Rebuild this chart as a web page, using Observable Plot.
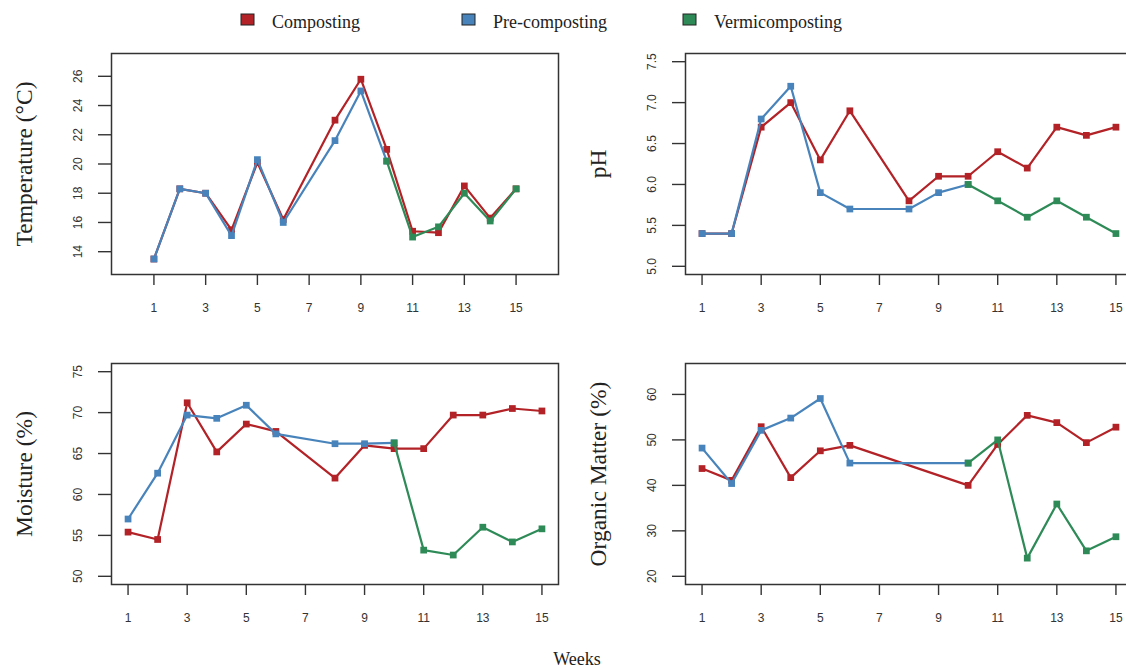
<!DOCTYPE html>
<html><head><meta charset="utf-8">
<script src="https://cdn.jsdelivr.net/npm/d3@7"></script>
<script src="https://cdn.jsdelivr.net/npm/@observablehq/plot@0.6"></script>
<style>
body{margin:0;background:#fff;}
#root{position:relative;width:1126px;height:668px;overflow:hidden;background:#fff;}
.panel{position:absolute;}
</style></head><body><div id="root"></div>
<script>
// ---- data ----
const seriesNames = ["Composting", "Pre-composting", "Vermicomposting"];
const seriesColors = ["#B22226", "#4884BB", "#2E8B57"];
const weekTicks = [1, 3, 5, 7, 9, 11, 13, 15];

const weeksComposting = [1, 2, 3, 4, 5, 6, 8, 9, 10, 11, 12, 13, 14, 15];
const weeksPre = [1, 2, 3, 4, 5, 6, 8, 9, 10];
const weeksVermi = [10, 11, 12, 13, 14, 15];
const weeksOMComposting = [1, 2, 3, 4, 5, 6, 10, 11, 12, 13, 14, 15];
const weeksOMPre = [1, 2, 3, 4, 5, 6, 10];

const tempComposting = [13.5, 18.3, 18.0, 15.5, 20.1, 16.2, 23.0, 25.8, 21.0, 15.4, 15.3, 18.5, 16.3, 18.3];
const tempPre = [13.5, 18.3, 18.0, 15.1, 20.3, 16.0, 21.6, 25.0, 20.2];
const tempVermi = [20.2, 15.0, 15.7, 18.0, 16.1, 18.3];
const tempTicks = [14, 16, 18, 20, 22, 24, 26];

const phComposting = [5.4, 5.4, 6.7, 7.0, 6.3, 6.9, 5.8, 6.1, 6.1, 6.4, 6.2, 6.7, 6.6, 6.7];
const phPre = [5.4, 5.4, 6.8, 7.2, 5.9, 5.7, 5.7, 5.9, 6.0];
const phVermi = [6.0, 5.8, 5.6, 5.8, 5.6, 5.4];
const phTicks = [5.0, 5.5, 6.0, 6.5, 7.0, 7.5];

const moistComposting = [55.4, 54.5, 71.2, 65.2, 68.6, 67.7, 62.0, 66.0, 65.6, 65.6, 69.7, 69.7, 70.5, 70.2];
const moistPre = [57.0, 62.6, 69.7, 69.3, 70.9, 67.4, 66.2, 66.2, 66.3];
const moistVermi = [66.3, 53.2, 52.6, 56.0, 54.2, 55.8];
const moistTicks = [50, 55, 60, 65, 70, 75];

const omComposting = [43.7, 41.1, 52.9, 41.7, 47.6, 48.8, 40.0, 49.0, 55.4, 53.8, 49.4, 52.8];
const omPre = [48.2, 40.4, 52.1, 54.8, 59.1, 44.9, 44.9];
const omVermi = [44.9, 50.0, 24.0, 35.9, 25.6, 28.7];
const omTicks = [20, 30, 40, 50, 60];

const titles = ["Temperature (°C)", "pH", "Moisture (%)", "Organic Matter (%)"];
const xLabel = "Weeks";

// ---- helpers ----
function rows(weeks, values, series) {
  return weeks.map((w, i) => ({week: w, value: values[i], series}));
}

const panels = [
  {title: titles[0], left: 0, top: 40, xDomain: [-0.64, 16.64], yDomain: [12.44, 27.56], yTicks: tempTicks, fmt: d3.format("d"),
   series: [rows(weeksComposting, tempComposting, seriesNames[0]), rows(weeksPre, tempPre, seriesNames[1]), rows(weeksVermi, tempVermi, seriesNames[2])]},
  {title: titles[1], left: 570, top: 40, xDomain: [0.44, 15.56], yDomain: [4.9, 7.6], yTicks: phTicks, fmt: d3.format(".1f"),
   series: [rows(weeksComposting, phComposting, seriesNames[0]), rows(weeksPre, phPre, seriesNames[1]), rows(weeksVermi, phVermi, seriesNames[2])]},
  {title: titles[2], left: 0, top: 350, xDomain: [0.44, 15.56], yDomain: [49, 76], yTicks: moistTicks, fmt: d3.format("d"),
   series: [rows(weeksComposting, moistComposting, seriesNames[0]), rows(weeksPre, moistPre, seriesNames[1]), rows(weeksVermi, moistVermi, seriesNames[2])]},
  {title: titles[3], left: 570, top: 350, xDomain: [0.44, 15.56], yDomain: [18.2, 66.8], yTicks: omTicks, fmt: d3.format("d"),
   series: [rows(weeksOMComposting, omComposting, seriesNames[0]), rows(weeksOMPre, omPre, seriesNames[1]), rows(weeksVermi, omVermi, seriesNames[2])]}
];

const root = document.getElementById("root");
const tickFont = "'Liberation Sans', Arial, Helvetica, sans-serif";
const serifFont = "'Liberation Serif', 'Times New Roman', Times, serif";

for (const p of panels) {
  const marginLeft = p.left === 0 ? 111 : 115;
  const marks = [
    Plot.frame({stroke: "#333", strokeWidth: 1.5}),
    Plot.axisX({ticks: weekTicks, tickSize: 11, tickPadding: 18, label: null, strokeWidth: 1.4,
      fontSize: 12, fill: "#333", stroke: "#333"}),
    Plot.axisY({ticks: p.yTicks, tickFormat: () => "", tickSize: 13, label: null, strokeWidth: 1.4, stroke: "#333"}),
    Plot.text(p.yTicks, {y: d => d, text: p.fmt, frameAnchor: "left", dx: -33, rotate: -90,
      textAnchor: "middle", lineAnchor: "middle", fill: "#333", fontSize: 12}),
    Plot.text([p.title], {frameAnchor: "left", dx: -87, rotate: -90, textAnchor: "middle", lineAnchor: "middle",
      fontSize: 23.5, fontFamily: serifFont, fill: "#222"})
  ];
  p.series.forEach((data, i) => {
    marks.push(Plot.line(data, {x: "week", y: "value", stroke: seriesColors[i], strokeWidth: 2.2}));
    marks.push(Plot.dot(data, {x: "week", y: "value", fill: seriesColors[i], symbol: "square", r: 3.8}));
  });
  const chart = Plot.plot({
    width: marginLeft + 447 + 12,
    height: 300,
    marginLeft,
    marginRight: 12,
    marginTop: 13,
    marginBottom: 66,
    x: {domain: p.xDomain},
    y: {domain: p.yDomain},
    style: {fontFamily: tickFont, fontSize: "12px", color: "#333", background: "transparent", overflow: "visible"},
    marks
  });
  chart.classList.add("panel");
  chart.style.left = p.left + "px";
  chart.style.top = p.top + "px";
  root.appendChild(chart);
}

// ---- legend ----
const legend = d3.select(root).append("svg")
  .attr("width", 1126).attr("height", 40)
  .style("position", "absolute").style("left", "0px").style("top", "0px");
const legX = [241, 462, 683];
seriesNames.forEach((name, i) => {
  legend.append("rect").attr("x", legX[i]).attr("y", 14).attr("width", 13).attr("height", 11)
    .attr("fill", seriesColors[i]).attr("stroke", "#222").attr("stroke-width", 1);
  legend.append("text").attr("x", legX[i] + 31).attr("y", 28)
    .attr("font-family", serifFont).attr("font-size", 18).attr("fill", "#222").text(name);
});

// ---- x title ----
const xt = d3.select(root).append("svg")
  .attr("width", 1126).attr("height", 40)
  .style("position", "absolute").style("left", "0px").style("top", "628px");
xt.append("text").attr("x", 577).attr("y", 37).attr("text-anchor", "middle")
  .attr("font-family", serifFont).attr("font-size", 18).attr("fill", "#222").text(xLabel);
</script></body></html>
